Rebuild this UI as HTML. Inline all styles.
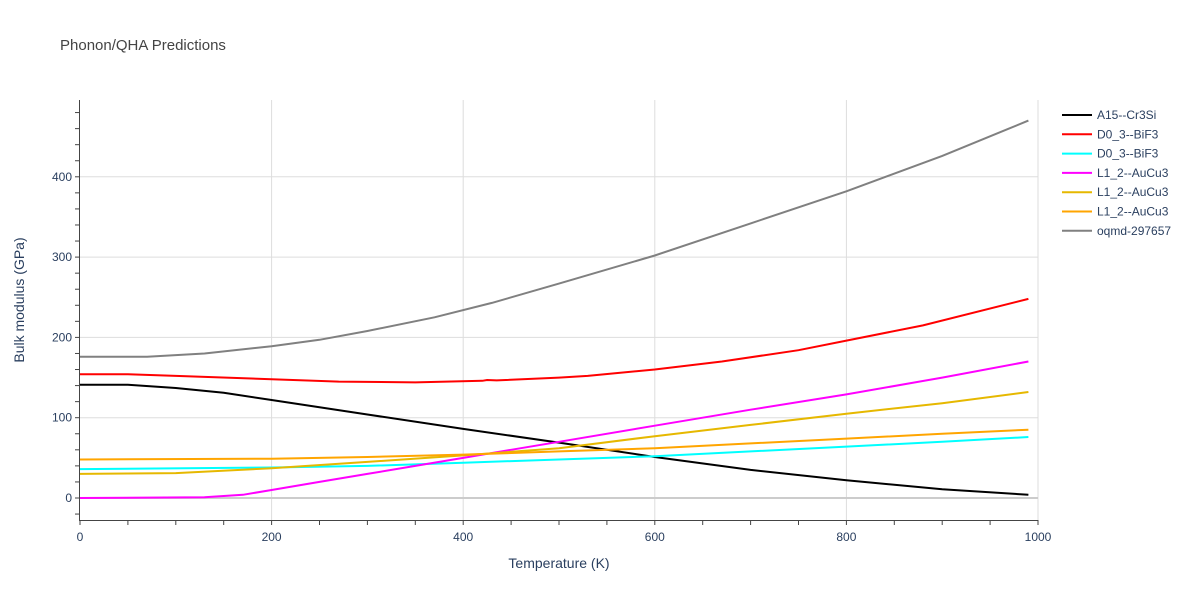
<!DOCTYPE html>
<html><head><meta charset="utf-8"><style>
body{margin:0;background:#fff;font-family:"Liberation Sans",sans-serif}
svg text{font-family:"Liberation Sans",sans-serif}
</style></head><body>
<svg width="1200" height="600" id="c">
<text x="60" y="50" font-size="15" fill="#444">Phonon/QHA Predictions</text>
<g id="grid"></g><g id="lines"></g><g id="axes"></g><g id="legend"></g>
<text x="559" y="568" font-size="14" fill="#2a3f5f" text-anchor="middle">Temperature (K)</text>
<text transform="translate(24,300) rotate(-90)" font-size="14" fill="#2a3f5f" text-anchor="middle">Bulk modulus (GPa)</text>
</svg>
<script>
const xTicks=[0,200,400,600,800,1000];
const yTicks=[0,100,200,300,400];
const names=["A15--Cr3Si","D0_3--BiF3","D0_3--BiF3","L1_2--AuCu3","L1_2--AuCu3","L1_2--AuCu3","oqmd-297657"];
const colors=["#000000","#ff0000","#00ffff","#ff00ff","#e6b800","#ffa500","#808080"];
const tBlack=[0,50,100,150,200,300,400,500,600,700,800,900,990];
const vBlack=[141,141,137,131,122,104,86,69,51,35,22,11,4];
const tRed=[0,50,100,200,270,350,420,425,435,500,530,600,670,750,800,880,990];
const vRed=[154,154,152,148,145,144,146,147,146.5,150,152,160,170,184,196,215,248];
const tCyan=[0,200,300,400,500,600,700,800,900,990];
const vCyan=[36,38,40,44,48,52,58,64,70,76];
const tMag=[0,130,170,200,250,300,350,400,450,500,600,700,800,900,990];
const vMag=[0,1,4,10,20,30,40,50,60,70,90,110,129,150,170];
const tGold=[0,100,200,300,400,500,600,700,800,900,990];
const vGold=[30,31,37,45,53,62,77,91,105,118,132];
const tOrange=[0,200,300,400,500,600,700,800,900,990];
const vOrange=[48,49,51,54,58,62,68,74,80,85];
const tGray=[0,70,130,200,250,300,370,430,500,600,700,800,900,990];
const vGray=[176,176,180,189,197,208,225,243,267,302,342,382,426,470];
const series=[[tBlack,vBlack],[tRed,vRed],[tCyan,vCyan],[tMag,vMag],[tGold,vGold],[tOrange,vOrange],[tGray,vGray]];
const X=v=>80+v*0.958, Y=v=>498-v*0.803;
const NS="http://www.w3.org/2000/svg";
function mk(p,tag,a){const e=document.createElementNS(NS,tag);for(const k in a)e.setAttribute(k,a[k]);document.getElementById(p).appendChild(e);return e;}
xTicks.forEach(t=>{
 if(t>0){const g=mk('grid','line',{x1:X(t),x2:X(t),y1:100,y2:520,stroke:'#ddd'});
 
 }
 const l=mk('axes','text',{x:X(t),y:541,'font-size':12,fill:'#2a3f5f','text-anchor':'middle'});l.textContent=t;
 
 
});
for(let t=0;t<=1000;t+=50){mk('axes','line',{x1:X(t),x2:X(t),y1:520,y2:525,stroke:'#444'});}
yTicks.forEach(t=>{
 const g=mk('grid','line',{x1:80,x2:1038,y1:Y(t),y2:Y(t),stroke:t==0?'#ccc':'#ddd','stroke-width':t==0?2:1});
 
 
 const l=mk('axes','text',{x:72,y:Y(t)+4,'font-size':12,fill:'#2a3f5f','text-anchor':'end'});l.textContent=t;
 
 
});
for(let t=-20;t<=480;t+=20){mk('axes','line',{x1:75,x2:80,y1:Y(t),y2:Y(t),stroke:'#444'});}
mk('axes','line',{x1:79.5,x2:79.5,y1:100,y2:520,stroke:'#444'});
mk('axes','line',{x1:79,x2:1038,y1:520.5,y2:520.5,stroke:'#444'});
series.forEach((s,i)=>{
 const p=mk('lines','path',{d:s[0].map((t,j)=>(j?'L':'M')+X(t).toFixed(1)+','+Y(s[1][j]).toFixed(1)).join(''),fill:'none',stroke:colors[i],'stroke-width':2});
 
 
 const y=115+i*19.3;
 const g=mk('legend','line',{x1:1062,x2:1092,y1:y,y2:y,stroke:colors[i],'stroke-width':2});
 
 
 const tx=mk('legend','text',{x:1097,y:y+4,'font-size':12,fill:'#2a3f5f'});tx.textContent=names[i];
 
 
});
</script>
</body></html>
